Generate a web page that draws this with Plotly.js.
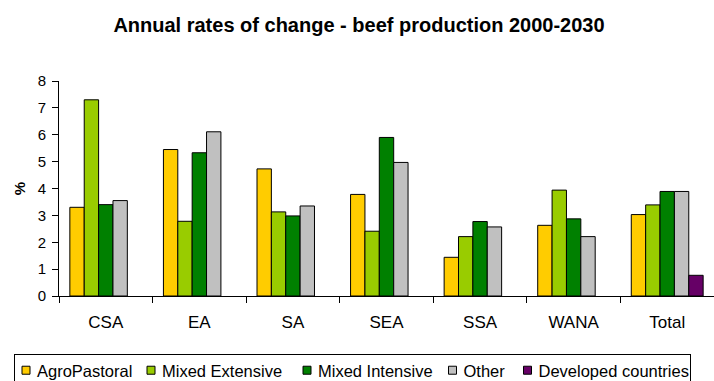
<!DOCTYPE html>
<html>
<head>
<meta charset="utf-8">
<script src="https://cdn.plot.ly/plotly-3.0.1.min.js"></script>
<style>
  html, body { margin: 0; padding: 0; background: #fff; }
  #chart { width: 714px; height: 381px; }
</style>
</head>
<body>
<div id="chart"></div>
<script>
// Annual rates of change in beef production, 2000-2030 (% per year)
const categories = ['CSA', 'EA', 'SA', 'SEA', 'SSA', 'WANA', 'Total'];
const agroPastoral   = [3.3, 5.45, 4.73, 3.78, 1.44, 2.63, 3.03];
const mixedExtensive = [7.3, 2.78, 3.13, 2.41, 2.21, 3.94, 3.39];
const mixedIntensive = [3.4, 5.33, 2.98, 5.9, 2.77, 2.87, 3.89];
const other          = [3.55, 6.11, 3.35, 4.97, 2.57, 2.21, 3.89];
const developed      = [null, null, null, null, null, null, 0.77];

const seriesNames = ['AgroPastoral', 'Mixed Extensive', 'Mixed Intensive', 'Other', 'Developed countries'];
const seriesValues = [agroPastoral, mixedExtensive, mixedIntensive, other, developed];
const seriesColors = ['#FFCC00', '#99CC00', '#008000', '#C0C0C0', '#660066'];
// width reserved for each legend entry (px), keeps the legend on one compact row
const legendWidths = [80, 111, 100.5, 30, 128];

const FONT = 'Liberation Sans, Arial, Helvetica, sans-serif';

const traces = seriesNames.map((name, i) => ({
  type: 'bar',
  name: name,
  x: categories,
  y: seriesValues[i],
  marker: { color: seriesColors[i], line: { color: '#000', width: 1 } },
  legendwidth: legendWidths[i],
  hoverinfo: 'none'
}));

const PLOT_L = 59, PLOT_T = 81, PLOT_B = 85, W = 714, H = 381;
const plotW = W - PLOT_L, plotH = H - PLOT_T - PLOT_B;

const layout = {
  width: W,
  height: H,
  margin: { l: PLOT_L, r: 0, t: PLOT_T, b: PLOT_B, autoexpand: false },
  paper_bgcolor: '#fff',
  plot_bgcolor: '#fff',
  font: { family: FONT, color: '#000' },
  title: {
    text: '<b>Annual rates of change - beef production 2000-2030</b>',
    font: { family: FONT, size: 20, color: '#000' },
    xref: 'container', x: 0.5028, xanchor: 'center',
    yref: 'container', y: 0.9336, yanchor: 'middle'
  },
  barmode: 'group',
  bargap: 0.232,
  bargroupgap: 0,
  showlegend: true,
  legend: {
    orientation: 'h',
    xref: 'paper', x: (14 - PLOT_L) / plotW, xanchor: 'left',
    yref: 'paper', y: -(354 - (H - PLOT_B)) / plotH, yanchor: 'top',
    bordercolor: '#000', borderwidth: 1,
    bgcolor: '#fff',
    font: { family: FONT, size: 16.5, color: '#000' },
    traceorder: 'normal'
  },
  xaxis: {
    type: 'category',
    showline: true, linecolor: '#000', linewidth: 1,
    ticks: 'outside', tickson: 'boundaries', ticklen: 6, tickcolor: '#000', tickwidth: 1,
    tickfont: { family: FONT, size: 17, color: '#000' },
    ticklabelstandoff: 11,
    showgrid: false, zeroline: false, fixedrange: true
  },
  yaxis: {
    range: [0, 8], tick0: 0, dtick: 1,
    showline: true, linecolor: '#000', linewidth: 1,
    ticks: 'outside', ticklen: 6, tickcolor: '#000', tickwidth: 1,
    tickfont: { family: FONT, size: 15, color: '#000' },
    ticklabelstandoff: 3,
    showgrid: false, zeroline: false, fixedrange: true,
    title: { text: '<b>%</b>', font: { family: FONT, size: 15, color: '#000' }, standoff: 8 }
  }
};

// Compact legend keys: small squares close to their labels
function tightenLegend(gd) {
  const SYMBOL_X = 11;
  const TEXT_X = 22;
  const RAISE = 2;
  gd.querySelectorAll('.legend .traces').forEach(item => {
    const txt = item.querySelector('.legendtext');
    if (txt) {
      txt.setAttribute('x', TEXT_X);
      const y = parseFloat(txt.getAttribute('y')) || 0;
      txt.setAttribute('y', y - RAISE);
      txt.querySelectorAll('tspan.line').forEach(t => t.setAttribute('x', TEXT_X));
    }
    item.querySelectorAll('.legendpoints path').forEach(p => {
      p.setAttribute('d', 'M4,4H-4V-4H4Z');
      p.setAttribute('transform', 'translate(' + SYMBOL_X + ',' + (-RAISE) + ')');
    });
  });
}

Plotly.newPlot('chart', traces, layout, { staticPlot: true, displayModeBar: false })
  .then(gd => tightenLegend(gd));
</script>
</body>
</html>
